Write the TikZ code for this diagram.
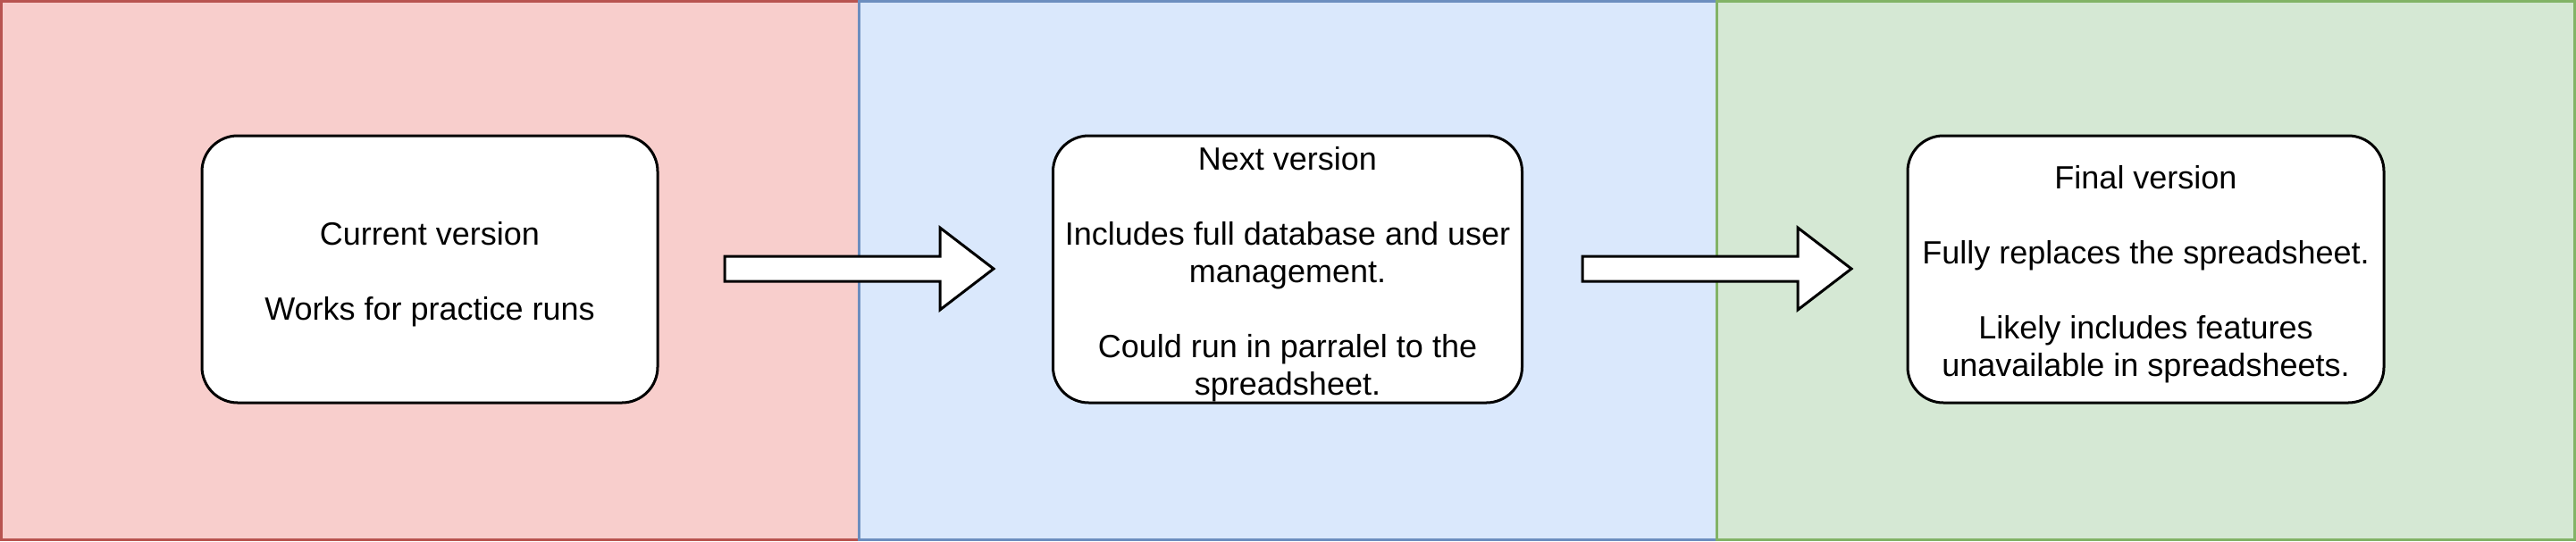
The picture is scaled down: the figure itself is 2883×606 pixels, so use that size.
\documentclass[tikz,border=0pt]{standalone}
\usepackage{fontspec}
\setmainfont{Liberation Sans}
\usetikzlibrary{calc}
\definecolor{redfill}{HTML}{F8CECC}
\definecolor{redline}{HTML}{B85450}
\definecolor{bluefill}{HTML}{DAE8FC}
\definecolor{blueline}{HTML}{6C8EBF}
\definecolor{greenfill}{HTML}{D5E8D4}
\definecolor{greenline}{HTML}{82B366}
\tikzset{
  panel/.style={line width=1.5pt},
  stagebox/.style={draw=black, fill=white, line width=1.5pt, rounded corners=20pt,
    inner sep=0pt, minimum height=149.5pt},
  stagetext/.style={inner sep=0pt, align=center, font=\fontsize{18}{21}\selectfont},
  fatarrow/.style={draw=black, fill=white, line width=1.5pt, line join=miter}
}
\begin{document}
\begin{tikzpicture}[x=0.5pt,y=-0.5pt]
\useasboundingbox (0,0) rectangle (2883,606);
\draw[panel, draw=redline, fill=redfill] (1.5,1.5) rectangle (961,604.5);
\draw[panel, draw=blueline, fill=bluefill] (961,1.5) rectangle (1921,604.5);
\draw[panel, draw=greenline, fill=greenfill] (1921,1.5) rectangle (2881.5,604.5);

\node[stagebox, minimum width=255pt] (b1) at (481,301.5) {};
\node[stagebox, minimum width=262.5pt] (b2) at (1441,301.5) {};
\node[stagebox, minimum width=266.5pt] (b3) at (2401.5,301.5) {};

\node[stagetext] (b1t) at ($(b1.center)+(0,5.5)$)
  {Current version\\[21pt]Works for practice runs};
\node[stagetext] (b2t) at ($(b2.center)+(0,5.5)$)
  {Next version\\[21pt]Includes full database and user\\management.\\[21pt]Could run in parralel to the\\spreadsheet.};
\node[stagetext] (b3t) at ($(b3.center)+(0,5.5)$)
  {Final version\\[21pt]Fully replaces the spreadsheet.\\[21pt]Likely includes features\\unavailable in spreadsheets.};

\coordinate (a1s) at (811,301);
\coordinate (a1e) at (1112,301);
\coordinate (a2s) at (1771,301);
\coordinate (a2e) at (2072,301);
\foreach \s/\e in {a1s/a1e, a2s/a2e} {
  \draw[fatarrow] ($(\s)+(0,-14)$) -- ($(\e)+(-60,-14)$) -- ($(\e)+(-60,-46)$)
    -- (\e) -- ($(\e)+(-60,46)$) -- ($(\e)+(-60,14)$) -- ($(\s)+(0,14)$) -- cycle;
}
\end{tikzpicture}
\end{document}
